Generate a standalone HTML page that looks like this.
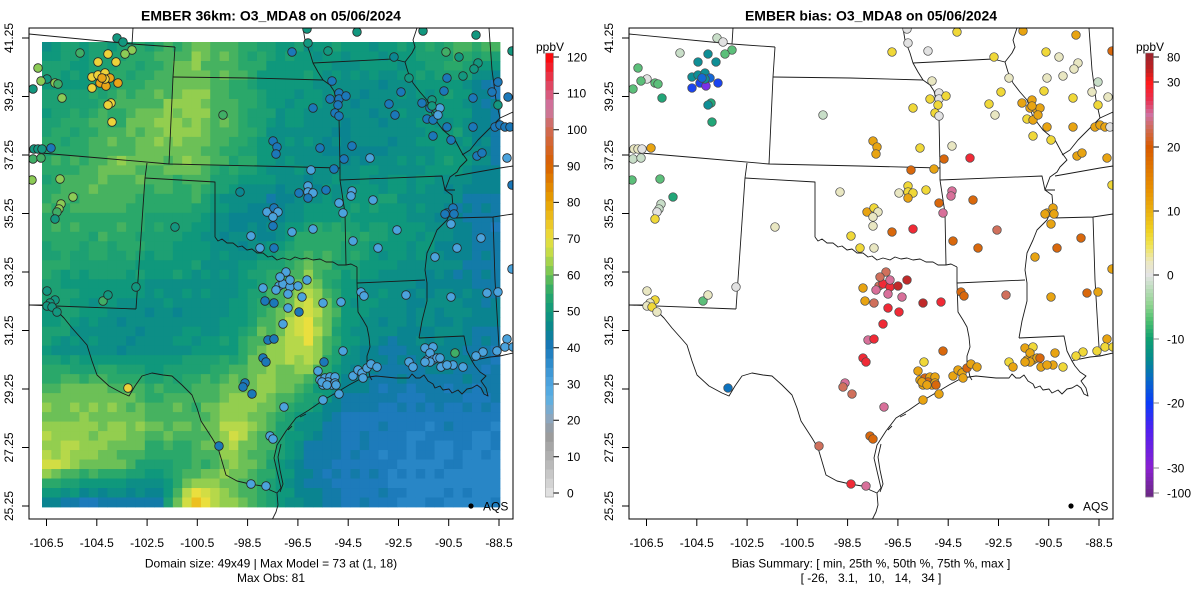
<!DOCTYPE html>
<html><head><meta charset="utf-8">
<style>
html,body{margin:0;padding:0;background:#fff}
svg{display:block}
text{font-family:"Liberation Sans",Arial,sans-serif;fill:#000}
</style></head>
<body>
<svg id="s" width="1200" height="600" viewBox="0 0 1200 600" xmlns="http://www.w3.org/2000/svg">
<defs>
<clipPath id="cp"><rect x="29" y="28" width="484" height="491"/></clipPath>
<g id="map" fill="none" stroke="#1a1a1a" stroke-width="0.9" stroke-linejoin="round">
<path d="M29,34 L132,44 L175,47 M133,28 L132,44"/>
<path d="M175,47 L173,77 L169,164"/>
<path d="M173,77 L250,78 L323,80"/>
<path d="M303,28 L305,40 L310,53 L313,63 L318,72 L323,80 L330,85 L334,91 L336,100 L339,117 L340,168 L340,180"/>
<path d="M313,63 L393,59 L405,62"/>
<path d="M29,152 L100,158 L169,164 L260,166 L340,168"/>
<path d="M147,163 L145,178 L138,280 L136,309 M29,305 L136,309"/>
<path d="M145,178 L215,182 L215,237"/>
<path d="M215,237 L218,241 L222,239 L227,243 L233,243 L238,247 L242,246 L247,250 L252,249 L257,253 L263,253 L268,257 L272,256 L277,260 L283,258 L290,260 L295,257 L301,259 L307,258 L313,260 L320,259 L326,262 L333,262 L338,265 L346,265 L351,264 L357,267"/>
<path d="M340,180 L345,213 L346,265"/>
<path d="M357,267 L357,283 L358,312 L363,320 L367,327 L369,337 L370,347 L367,356 L367,363 L370,377 L372,380"/>
<path d="M357,283 L425,280"/>
<path d="M340,180 L442,176 L445,190 L455,190"/>
<path d="M417,28 L413,40 L415,47 L412,53 L405,62 L408,72 L413,83 L420,92 L427,100 L433,117 L443,130 L455,140 L462,153 L467,160 L460,167 L457,172 L450,177 L445,190 L452,195 L453,207 L447,220 L437,230 L433,240 L427,253 L425,270 L427,283 L427,301 L422,321 L419,338"/>
<path d="M419,338 L464,336 L467,351 L472,361"/>
<path d="M455,176 L500,168 L513,166 M453,218 L493,217 L513,214 M493,217 L495,280 L499,347 L500,356"/>
<path d="M489,28 L492,70 L496,100 L500,118 M462,155 L470,150 L478,140 L490,128 L500,118 L513,112"/>
<path d="M29,305 L47,305 L57,311 L64,318 L72,328 L80,337 L87,345 L92,361 L97,375 L109,386 L122,393 L129,396 L135,386 L142,376 L152,373 L163,375 L172,376 L182,385 L192,395 L197,408 L201,421 L212,438 L218,448 L221,458 L226,475 L237,481 L250,484 L262,486 L270,490 L277,493"/>
<path d="M277,493 L281,488 L277,471 L274,458 L277,445 L286,431 L296,418 L309,410 L322,401 L339,391 L349,385 L362,378 L376,376 L396,378 L409,378 L412,374 L416,378 L420,378 L424,375 L428,381 L433,384 L435,388 L440,386 L443,390 L449,389 L452,393 L458,390 L462,394 L467,389 L472,388 L477,385 L481,388 L484,394 L488,396 L486,388 L481,381 L486,376 L480,372 L475,366 L472,361 L480,359 L490,357 L500,356 L513,353"/>
<path d="M280,492 L283,484 L280,470 L278,457 L281,444 M288,430 L292,426 M300,417 L306,414"/>
<path d="M277,493 L278,505 L276,512 L272,520"/>
</g>
</defs>

<!-- LEFT PANEL -->
<g id="L">
<text x="271" y="20.5" text-anchor="middle" font-size="14" font-weight="bold">EMBER 36km: O3_MDA8 on 05/06/2024</text>
<rect x="42" y="42" width="458" height="465" fill="#2a9c7a"/>
<g id="grid"></g>
<g clip-path="url(#cp)"><use href="#map"/></g>
<g id="ptsL" clip-path="url(#cp)"></g>
<circle cx="471" cy="506" r="2.6" fill="#000"/>
<text x="483" y="510.5" font-size="12">AQS</text>
<rect x="29" y="28" width="484" height="491" fill="none" stroke="#000" stroke-width="1"/>
<g id="axL"></g>
<text x="271" y="567.5" text-anchor="middle" font-size="12">Domain size: 49x49 | Max Model = 73 at (1, 18)</text>
<text x="271" y="582" text-anchor="middle" font-size="12">Max Obs: 81</text>
<text x="550" y="51" text-anchor="middle" font-size="12">ppbV</text>
<g id="cbL"></g>
</g>

<!-- RIGHT PANEL -->
<g id="R" transform="translate(600,0)">
<text x="271" y="20.5" text-anchor="middle" font-size="14" font-weight="bold">EMBER bias: O3_MDA8 on 05/06/2024</text>
<g clip-path="url(#cp)"><use href="#map"/></g>
<g id="ptsR" clip-path="url(#cp)"></g>
<circle cx="471" cy="506" r="2.6" fill="#000"/>
<text x="483" y="510.5" font-size="12">AQS</text>
<rect x="29" y="28" width="484" height="491" fill="none" stroke="#000" stroke-width="1"/>
<g id="axR"></g>
<text x="271" y="567.5" text-anchor="middle" font-size="12">Bias Summary: [ min, 25th %, 50th %, 75th %, max ]</text>
<text x="271" y="582" text-anchor="middle" font-size="12" style="white-space:pre">[ -26,   3.1,   10,   14,   34 ]</text>
<text x="550" y="51" text-anchor="middle" font-size="12">ppbV</text>
<g id="cbR"></g>
</g>

<!-- static axes labels (both panels) -->
<g font-size="12">
<g text-anchor="middle">
<text transform="translate(13,38) rotate(-90)">41.25</text>
<text transform="translate(13,96.5) rotate(-90)">39.25</text>
<text transform="translate(13,155) rotate(-90)">37.25</text>
<text transform="translate(13,213.5) rotate(-90)">35.25</text>
<text transform="translate(13,272) rotate(-90)">33.25</text>
<text transform="translate(13,330.5) rotate(-90)">31.25</text>
<text transform="translate(13,389) rotate(-90)">29.25</text>
<text transform="translate(13,447.5) rotate(-90)">27.25</text>
<text transform="translate(13,506) rotate(-90)">25.25</text>
<text transform="translate(613,38) rotate(-90)">41.25</text>
<text transform="translate(613,96.5) rotate(-90)">39.25</text>
<text transform="translate(613,155) rotate(-90)">37.25</text>
<text transform="translate(613,213.5) rotate(-90)">35.25</text>
<text transform="translate(613,272) rotate(-90)">33.25</text>
<text transform="translate(613,330.5) rotate(-90)">31.25</text>
<text transform="translate(613,389) rotate(-90)">29.25</text>
<text transform="translate(613,447.5) rotate(-90)">27.25</text>
<text transform="translate(613,506) rotate(-90)">25.25</text>
<text x="46.5" y="547">-106.5</text>
<text x="96.8" y="547">-104.5</text>
<text x="147.1" y="547">-102.5</text>
<text x="197.3" y="547">-100.5</text>
<text x="247.6" y="547">-98.5</text>
<text x="297.9" y="547">-96.5</text>
<text x="348.2" y="547">-94.5</text>
<text x="398.5" y="547">-92.5</text>
<text x="448.7" y="547">-90.5</text>
<text x="499" y="547">-88.5</text>
<text x="646.5" y="547">-106.5</text>
<text x="696.8" y="547">-104.5</text>
<text x="747.1" y="547">-102.5</text>
<text x="797.3" y="547">-100.5</text>
<text x="847.6" y="547">-98.5</text>
<text x="897.9" y="547">-96.5</text>
<text x="948.2" y="547">-94.5</text>
<text x="998.5" y="547">-92.5</text>
<text x="1048.7" y="547">-90.5</text>
<text x="1099" y="547">-88.5</text>
</g>
<g>
<text x="567" y="61.3">120</text>
<text x="567" y="97.6">110</text>
<text x="567" y="134">100</text>
<text x="567" y="170.3">90</text>
<text x="567" y="206.6">80</text>
<text x="567" y="243">70</text>
<text x="567" y="279.3">60</text>
<text x="567" y="315.6">50</text>
<text x="567" y="352">40</text>
<text x="567" y="388.3">30</text>
<text x="567" y="424.6">20</text>
<text x="567" y="461">10</text>
<text x="567" y="497.3">0</text>
<text x="1167" y="61.3">80</text>
<text x="1167" y="86.3">30</text>
<text x="1167" y="151.3">20</text>
<text x="1167" y="215.3">10</text>
<text x="1167" y="279.3">0</text>
<text x="1167" y="343.3">-10</text>
<text x="1167" y="407.3">-20</text>
<text x="1167" y="472.3">-30</text>
<text x="1167" y="497.3">-100</text>
</g>
</g>
</svg>

<script>
(function(){
var NS="http://www.w3.org/2000/svg";
function el(t,a,p){var e=document.createElementNS(NS,t);for(var k in a)e.setAttribute(k,a[k]);p.appendChild(e);return e;}
function hex(c){return [parseInt(c.slice(1,3),16),parseInt(c.slice(3,5),16),parseInt(c.slice(5,7),16)];}
function interp(st,v){
  if(v<=st[0][0])return st[0][1];
  for(var i=1;i<st.length;i++){
    if(v<=st[i][0]){var a=st[i-1],b=st[i];var t=(v-a[0])/(b[0]-a[0]);var ca=hex(a[1]),cb=hex(b[1]);
      return 'rgb('+Math.round(ca[0]+(cb[0]-ca[0])*t)+','+Math.round(ca[1]+(cb[1]-ca[1])*t)+','+Math.round(ca[2]+(cb[2]-ca[2])*t)+')';}
  }
  return st[st.length-1][1];
}
var OBS=[[0,'#e6e6e6'],[10,'#b4b4b4'],[17,'#999999'],[22,'#8aa8c4'],[27,'#5ab0e4'],[32,'#4aa0dc'],[37,'#2a88c8'],[41,'#1876b6'],[45,'#0a8490'],[50,'#0f987c'],[55,'#2aa86a'],[58,'#4cb45e'],[62,'#8ccc50'],[66,'#c4dc48'],[70,'#eadf3e'],[75,'#ecc020'],[80,'#e6a000'],[85,'#e08000'],[90,'#d86000'],[100,'#d06a58'],[105,'#cc79a7'],[110,'#dc5070'],[120,'#ff0000']];
var M=[
[50,52,52,55,60,57,52,50,50,50,52,57,57],
[52,52,55,58,62,57,50,50,48,47,50,52,42],
[52,55,57,62,62,57,50,48,47,47,48,50,43],
[55,57,60,60,60,55,50,47,47,47,50,50,45],
[55,58,57,55,55,47,45,47,50,51,48,45,43],
[55,55,55,53,50,46,46,55,55,51,50,45,42],
[53,52,52,50,50,48,55,60,52,48,47,45,43],
[52,50,47,47,47,48,57,70,50,47,47,47,44],
[50,48,47,48,50,52,63,67,50,44,45,45,42],
[58,60,58,55,57,60,62,55,45,42,42,42,42],
[62,63,62,60,58,66,57,47,41,40,40,40,40],
[67,62,58,52,55,62,55,43,41,40,38,38,37],
[45,42,42,43,74,60,52,45,41,40,38,38,38]];
var g=document.getElementById('grid');
var cw=458/49,ch=465/49;
for(var j=0;j<49;j++){for(var i=0;i<49;i++){
  var u=i/4,v=j/4,i0=Math.min(11,Math.floor(u)),j0=Math.min(11,Math.floor(v)),fu=u-i0,fv=v-j0;
  var val=M[j0][i0]*(1-fu)*(1-fv)+M[j0][i0+1]*fu*(1-fv)+M[j0+1][i0]*(1-fu)*fv+M[j0+1][i0+1]*fu*fv;
  var h=((i*7919+j*104729+i*j*31)%7)-3; val+=h*0.45;
  val=Math.round(val/2.5)*2.5;
  el('rect',{x:(42+i*cw).toFixed(2),y:(42+j*ch).toFixed(2),width:(cw+0.4).toFixed(2),height:(ch+0.4).toFixed(2),fill:interp(OBS,val)},g);
}}
// colorbar left
var cb=document.getElementById('cbL');
for(var k=0;k<48;k++){var y0=497-(k+1)*444/48;el('rect',{x:545.5,y:y0.toFixed(2),width:8,height:(444/48+0.3).toFixed(2),fill:interp(OBS,k*2.5+1.25)},cb);}
el('rect',{x:545.5,y:53,width:8,height:444,fill:'none',stroke:'#999','stroke-width':0.6},cb);
var tk='';for(var v2=0;v2<=120;v2+=10){var yy=493-v2*3.633;tk+='M553.5,'+yy.toFixed(1)+'H559';}
el('path',{d:tk,stroke:'#000','stroke-width':1,fill:'none'},cb);
// colorbar right (by y)
var BS=[[53,'#9a2530'],[70,'#c02020'],[82,'#ff1a1a'],[100,'#e83050'],[115,'#d070a0'],[130,'#d06a50'],[147,'#d85a00'],[170,'#e07800'],[190,'#e89000'],[211,'#eab010'],[230,'#f0d020'],[245,'#f0e450'],[262,'#ece8c0'],[275,'#e4e4e4'],[290,'#b8dcb8'],[305,'#90d490'],[320,'#50c070'],[339,'#10a070'],[360,'#048a90'],[380,'#0868c8'],[403,'#0a3cf8'],[430,'#5020f0'],[468,'#8a20d0'],[497,'#6a2a80']];
var cr=document.getElementById('cbR');
for(var y1=53;y1<497;y1+=4){el('rect',{x:545.5,y:y1,width:8,height:4.3,fill:interp(BS,y1+2)},cr);}
el('rect',{x:545.5,y:53,width:8,height:444,fill:'none',stroke:'#999','stroke-width':0.6},cr);
el('path',{d:'M553.5,57H559M553.5,82H559M553.5,147H559M553.5,211H559M553.5,275H559',stroke:'#000','stroke-width':1},cr);
el('path',{d:'M553.5,339H559M553.5,403H559M553.5,468H559M553.5,493H559',stroke:'#888','stroke-width':1},cr);
// axes ticks
['axL','axR'].forEach(function(id){
  var a=document.getElementById(id),d='';
  [38,96.5,155,213.5,272,330.5,389,447.5,506].forEach(function(y){d+='M22,'+y+'H29';});
  for(var q=0;q<10;q++){var x=46.5+q*50.28;d+='M'+x.toFixed(1)+',519V526';}
  el('path',{d:d,stroke:'#000','stroke-width':1,fill:'none'},a);
});
var OC={T:'#13977f',G:'#40ae66',L:'#8ccb56',Y:'#ecd23a',O:'#e8a418',B:'#1b78b9',b:'#4ba3dd',t:'#0b8791'};
var BC={q:'#c8dec8',w:'#e2e2e2',l:'#e9e7c2',y:'#f0d838',o:'#e8a412',d:'#d9680c',s:'#d0705c',p:'#d8709a',r:'#f02a36',R:'#c02a2a',g:'#5cbf7a',G:'#22a678',T:'#0f8f96',B:'#1468d8',U:'#1a44f0',P:'#7a30e8',k:'#0c72be'};
var P=[[117,38,'Tq'],[123,42,'Tw'],[132,50,'Lg'],[125,54,'Lg'],[108,54,'YT'],[116,62,'YT'],[80,53,'Gq'],[98,62,'YT'],
[38,68,'Lg'],[47,79,'Tw'],[41,81,'Lg'],[55,83,'Lg'],[58,84,'Gg'],[33,89,'Tg'],[62,98,'LG'],
[92,77,'YT'],[98,75,'YT'],[105,73,'YT'],[110,78,'OB'],[100,83,'OU'],[106,86,'OP'],[92,88,'YU'],[118,83,'OU'],[105,79,'YT'],[102,78,'OB'],
[111,103,'YG'],[108,105,'YT'],[112,122,'YG'],
[34,149,'Tl'],[38,149,'Tl'],[42,149,'Tw'],[51,148,'Bo'],[33,159,'Gq'],[41,158,'Gq'],[32,180,'Lg'],[60,179,'Lg'],[73,197,'LG'],[61,204,'Lq'],[59,209,'Lq'],[57,212,'Gw'],[55,219,'Ty'],
[175,227,'Tl'],[223,115,'Gq'],[240,192,'tl'],[251,236,'by'],[260,248,'by'],[274,248,'Bl'],[267,212,'bo'],[274,208,'By'],[278,212,'bl'],[273,217,'bl'],[273,226,'Bl'],[292,232,'bd'],[313,229,'br'],
[299,193,'Bl'],[308,186,'by'],[308,192,'by'],[313,193,'by'],[308,198,'Bo'],[326,190,'By'],
[273,141,'Bo'],[277,147,'Bo'],[276,154,'Bo'],[320,148,'By'],[311,170,'bd'],[334,169,'Bo'],[339,203,'bd'],[343,213,'bp'],[352,191,'bp'],[351,196,'bp'],[373,200,'bd'],[353,241,'bd'],[378,248,'bd'],[397,230,'bs'],[344,159,'Bd'],[370,158,'br'],[352,146,'Bl'],
[292,52,'By'],[308,43,'Tw'],[307,29,'Tw'],[328,51,'Tw'],[357,32,'Ty'],[332,81,'Bl'],
[339,93,'Bw'],[339,99,'Bw'],[346,96,'By'],[330,99,'By'],[338,105,'By'],[335,113,'By'],[339,116,'Bw'],[313,108,'By'],
[394,57,'ty'],[409,78,'Tl'],[401,92,'By'],[389,104,'By'],[395,115,'Bl'],
[422,103,'Bo'],[432,100,'To'],[430,108,'Bo'],[437,110,'To'],[440,108,'bo'],[427,119,'By'],[433,120,'Bo'],[438,115,'bo'],[432,106,'To'],
[433,136,'By'],[451,140,'By'],[423,31,'To'],[446,52,'Gy'],[459,57,'Tl'],[476,35,'To'],[478,63,'Tl'],[474,69,'Tl'],[463,76,'Tl'],[447,78,'Bl'],[444,91,'By'],[473,98,'By'],[498,82,'Bq'],[492,92,'Bl'],[508,97,'Bl'],[498,105,'Ty'],[512,51,'Td'],
[447,127,'Bo'],[473,127,'Bo'],[495,127,'Bo'],[500,125,'Bo'],[505,127,'Bo'],[510,127,'Bw'],[477,156,'Bo'],[482,153,'Bo'],[507,158,'bo'],[512,185,'By'],
[447,213,'Bo'],[453,208,'Bo'],[454,214,'Bo'],[445,214,'Bo'],[451,224,'bo'],[481,238,'bd'],[457,248,'bd'],[435,257,'bo'],[512,269,'bo'],
[47,291,'Tl'],[55,300,'Ty'],[50,303,'Tl'],[47,306,'Tl'],[52,307,'Ty'],[57,312,'Tl'],[103,301,'Gg'],[108,295,'Tl'],[136,287,'Tw'],[128,388,'Yk'],
[219,446,'Bs'],[251,484,'br'],[266,486,'bp'],[270,436,'bd'],[273,439,'bd'],[284,407,'bp'],[245,383,'Bp'],[243,387,'Bs'],[252,394,'Bs'],[263,358,'Br'],[266,362,'Br'],[268,340,'Bp'],[274,339,'Br'],[283,324,'br'],[288,308,'br'],[299,312,'Br'],
[263,288,'bo'],[265,301,'Bo'],[274,303,'Bs'],[279,286,'bs'],[276,290,'bp'],[283,284,'br'],[290,287,'br'],[288,294,'bp'],[290,280,'bp'],[286,272,'bs'],[280,277,'bs'],[298,286,'bR'],[307,280,'bR'],[302,297,'bp'],[323,303,'bR'],[341,302,'br'],
[343,351,'bd'],[324,362,'By'],[318,371,'bo'],
[320,380,'bo'],[325,378,'bd'],[330,377,'bo'],[335,377,'bo'],[328,382,'bd'],[323,385,'bo'],[332,385,'bo'],[335,383,'bo'],[322,382,'bo'],[327,385,'bo'],[336,385,'bd'],[339,394,'bo'],[323,400,'bo'],
[353,376,'bo'],[358,370,'bo'],[362,373,'bo'],[363,378,'bo'],[367,368,'bd'],[371,364,'bo'],[377,367,'bo'],[361,292,'bd'],[364,296,'bd'],[406,295,'bs'],[451,297,'bo'],[487,293,'bd'],[498,292,'bo'],
[507,339,'bo'],[505,347,'by'],[513,347,'by'],[497,351,'by'],[483,352,'by'],[476,356,'by'],[463,367,'by'],[453,365,'bo'],[455,353,'Go'],[441,367,'bo'],[447,365,'bo'],
[425,348,'bo'],[433,347,'by'],[427,360,'bo'],[430,353,'bo'],[433,360,'bo'],[437,358,'bo'],[440,358,'bd'],[430,362,'bo'],[425,362,'bo'],[409,362,'by'],[413,367,'bo']];
var pl=document.getElementById('ptsL'),pr=document.getElementById('ptsR');
P.forEach(function(p){
  el('circle',{cx:p[0],cy:p[1],r:4.3,fill:OC[p[2][0]],stroke:'#262626','stroke-width':0.8},pl);
  el('circle',{cx:p[0],cy:p[1],r:4.3,fill:BC[p[2][1]],stroke:'#4a4a4a','stroke-width':0.7},pr);
});
})();
</script>
</body></html>
